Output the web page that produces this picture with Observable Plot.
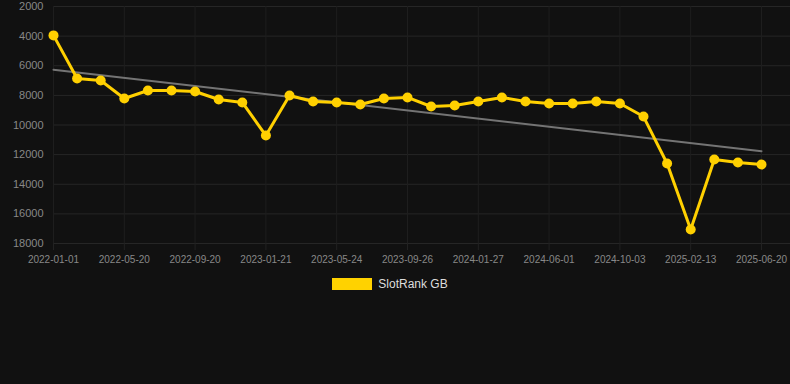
<!DOCTYPE html>
<html><head><meta charset="utf-8">
<script src="https://cdn.jsdelivr.net/npm/d3@7"></script>
<script src="https://cdn.jsdelivr.net/npm/@observablehq/plot@0.6"></script>
<style>
html,body{margin:0;padding:0;background:#111111;width:790px;height:384px;overflow:hidden;font-family:"Liberation Sans",Arial,sans-serif;}
#legend{display:flex;justify-content:center;align-items:center;margin-top:7px;height:14px;padding-right:10px;}
#legend .sw{width:40px;height:12px;background:#FFD200;margin-right:6px;}
#legend span{color:#dddddd;font-size:12px;}
</style></head>
<body><div id="chart"></div><div id="legend"><div class="sw"></div><span>SlotRank GB</span></div>
<script>
const labels = ["2022-01-01","","","2022-05-20","","","2022-09-20","","","2023-01-21","","","2023-05-24","","","2023-09-26","","","2024-01-27","","","2024-06-01","","","2024-10-03","","","2025-02-13","","","2025-06-20"];
const ranks = [3950,6860,7000,8210,7670,7670,7740,8280,8480,10710,8010,8410,8480,8620,8210,8140,8750,8680,8410,8140,8410,8550,8550,8410,8550,9430,12600,17050,12330,12530,12670];
const yTicks = [2000,4000,6000,8000,10000,12000,14000,16000,18000];
const xTicks = d3.range(0, labels.length, 3);
const data = ranks.map((v,i)=>({i, v}));
const chart = Plot.plot({
  width: 790, height: 270,
  marginLeft: 53, marginRight: 29, marginTop: 6, marginBottom: 27,
  style: {background: "#111111", color: "#888888", fontFamily: "Liberation Sans, Arial, sans-serif", overflow: "visible"},
  x: {type: "linear", domain: [0, labels.length - 1], ticks: xTicks, tickFormat: i => labels[i]},
  y: {domain: [2000, 18000], reverse: true, ticks: yTicks, tickFormat: d => String(d)},
  marks: [
    Plot.gridY(yTicks, {stroke: "#262626", strokeOpacity: 1, insetRight: -29}),
    Plot.gridX(xTicks, {stroke: "#1e1e1e", strokeOpacity: 1}),
    Plot.axisY({ticks: yTicks, tickSize: 0, tickPadding: 10, fontSize: 11, fill: "#888888", label: null, tickFormat: d => String(d)}),
    Plot.axisX({ticks: xTicks, tickSize: 7, tickPadding: 5, fontSize: 10, fill: "#888888", stroke: "#222222", strokeOpacity: 1, label: null, tickFormat: i => labels[i]}),
    Plot.linearRegressionY(data, {x: "i", y: "v", stroke: "#747474", strokeWidth: 2, ci: 0}),
    Plot.line(data, {x: "i", y: "v", stroke: "#FFD000", strokeWidth: 3}),
    Plot.dot(data, {x: "i", y: "v", r: 5, fill: "#FFD000", stroke: "none"})
  ]
});
document.getElementById("chart").appendChild(chart);
</script></body></html>
